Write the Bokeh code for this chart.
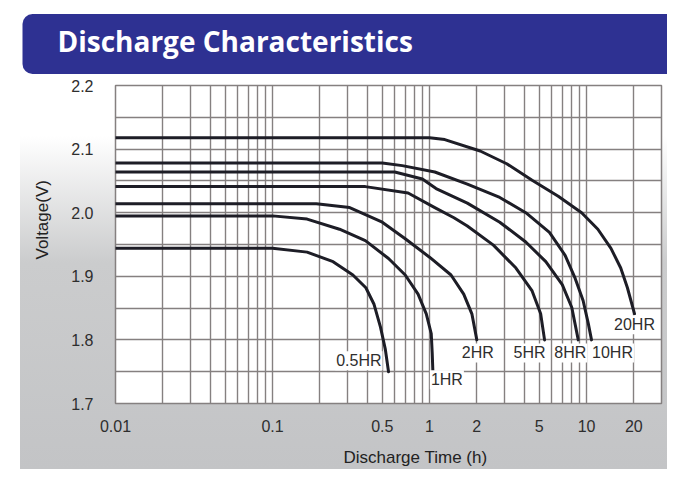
from bokeh.plotting import figure
from bokeh.models import Label, FixedTicker, Title
from bokeh.embed import file_html
from bokeh.resources import INLINE

# ---------------- data ----------------
title_text = "Discharge Characteristics"
x_title = "Discharge Time (h)"
y_title = "Voltage(V)"

x_ticks = [0.01, 0.1, 0.5, 1, 2, 5, 10, 20]
x_tick_labels = ["0.01", "0.1", "0.5", "1", "2", "5", "10", "20"]
y_ticks = [1.7, 1.8, 1.9, 2.0, 2.1, 2.2]
y_tick_labels = ["1.7", "1.8", "1.9", "2.0", "2.1", "2.2"]

x_grid = [0.01, 0.02, 0.03, 0.04, 0.05, 0.06, 0.07, 0.08, 0.09,
          0.1, 0.2, 0.3, 0.4, 0.5, 0.6, 0.7, 0.8, 0.9,
          1, 2, 3, 4, 5, 6, 7, 8, 9, 10, 20, 30]
y_grid = [1.7, 1.75, 1.8, 1.85, 1.9, 1.95, 2.0, 2.05, 2.1, 2.15, 2.2]

series_names = ["0.5HR", "1HR", "2HR", "5HR", "8HR", "10HR", "20HR"]

t_05 = [0.01, 0.1, 0.166, 0.243, 0.325, 0.393, 0.443, 0.487, 0.523, 0.548]
v_05 = [1.944, 1.944, 1.938, 1.923, 1.902, 1.882, 1.856, 1.820, 1.785, 1.750]

t_1 = [0.01, 0.1, 0.166, 0.267, 0.39, 0.548, 0.70, 0.845, 0.953, 1.025, 1.04, 1.05]
v_1 = [1.995, 1.995, 1.990, 1.974, 1.956, 1.928, 1.902, 1.872, 1.841, 1.810, 1.779, 1.750]

t_2 = [0.01, 0.19, 0.31, 0.5, 0.7, 1.0, 1.37, 1.65, 1.86, 2.0]
v_2 = [2.014, 2.014, 2.008, 1.985, 1.959, 1.930, 1.902, 1.872, 1.841, 1.800]

t_5 = [0.01, 0.39, 0.73, 1.08, 1.43, 1.74, 2.55, 3.55, 4.5, 5.1, 5.4]
v_5 = [2.041, 2.041, 2.031, 2.008, 1.992, 1.979, 1.949, 1.913, 1.877, 1.841, 1.800]

t_8 = [0.01, 0.6, 0.9, 1.1, 1.74, 2.8, 4.1, 5.5, 7.0, 8.05, 8.85]
v_8 = [2.064, 2.064, 2.053, 2.038, 2.015, 1.985, 1.954, 1.923, 1.887, 1.851, 1.800]

t_10 = [0.01, 0.5, 0.67, 1.08, 1.74, 2.8, 4.1, 5.8, 7.3, 8.45, 9.5, 10.25, 10.75]
v_10 = [2.078, 2.078, 2.074, 2.064, 2.045, 2.024, 2.000, 1.969, 1.933, 1.897, 1.862, 1.826, 1.800]

t_20 = [0.01, 1.0, 1.25, 2.1, 3.1, 4.5, 6.6, 9.3, 11.8, 14.3, 16.5, 18.2, 20.2]
v_20 = [2.118, 2.118, 2.115, 2.097, 2.077, 2.051, 2.026, 2.000, 1.974, 1.944, 1.913, 1.882, 1.841]

series_t = [t_05, t_1, t_2, t_5, t_8, t_10, t_20]
series_v = [v_05, v_1, v_2, v_5, v_8, v_10, v_20]

# label placement relative to curve end (screen px) - style only
label_dx = [-6, -3, 1, -15, -8, 21, 0]
label_dy = [11, -8, -13, -13, -13, -13, -11]
label_align = ["right", "left", "center", "center", "center", "center", "center"]

# ---------------- figure ----------------
W, H = 667, 469
ML, MR, MT, MB = 115, 6, 83, 64

p = figure(width=W, height=H, x_axis_type="log",
           x_range=(0.01, 30), y_range=(1.7, 2.2),
           output_backend="svg", toolbar_location=None, title=None,
           min_border_left=ML, min_border_right=MR,
           min_border_top=MT, min_border_bottom=MB)

p.border_fill_color = None
p.background_fill_color = "white"
p.outline_line_color = "#858080"
p.outline_line_width = 1.5
p.styles = {
    "background": "linear-gradient(to bottom, #ffffff 0%, #ffffff 29%, #cbcccd 56%, #c3c4c6 100%) 20px 0 / 647px 469px no-repeat"
}

# grid
p.xgrid.ticker = FixedTicker(ticks=x_grid)
p.ygrid.ticker = FixedTicker(ticks=y_grid)
for g in (p.xgrid, p.ygrid):
    g.grid_line_color = "#858080"
    g.grid_line_width = 1.4
    g.grid_line_alpha = 1.0

# axes
p.xaxis.ticker = FixedTicker(ticks=x_ticks)
p.xaxis.major_label_overrides = {float(t): s for t, s in zip(x_ticks, x_tick_labels)}
p.yaxis.ticker = FixedTicker(ticks=y_ticks)
p.yaxis.major_label_overrides = {float(t): s for t, s in zip(y_ticks, y_tick_labels)}
for ax in (p.xaxis, p.yaxis):
    ax.axis_line_color = None
    ax.major_tick_line_color = None
    ax.minor_tick_line_color = None
    ax.major_tick_out = 0
    ax.major_tick_in = 0
    ax.major_label_text_font = "Liberation Sans"
    ax.major_label_text_font_size = "16px"
    ax.major_label_text_color = "#2e2e2e"
p.xaxis.major_label_standoff = 16
p.yaxis.major_label_standoff = 22

# curves
for t, v in zip(series_t, series_v):
    p.line(t, v, line_color="#1d1d26", line_width=3, line_join="round", line_cap="round")

# curve labels
for name, t, v, dx, dy, al in zip(series_names, series_t, series_v, label_dx, label_dy, label_align):
    p.add_layout(Label(x=t[-1], y=v[-1], text=name, x_offset=dx, y_offset=dy,
                       text_align=al, text_baseline="middle",
                       text_font="Liberation Sans", text_font_size="16px",
                       text_color="#2e2e2e",
                       background_fill_color="white", background_fill_alpha=1.0,
                       padding=1))

# header band with title
header = Title(text=title_text, align="left", offset=-93, standoff=23,
               text_font="Open Sans", text_font_style="bold", text_font_size="28px",
               text_color="white",
               background_fill_color="#2e3192", background_fill_alpha=1.0,
               padding=dict(left=35, right=400, top=8, bottom=14),
               border_radius=10)
p.add_layout(header, "above")

# axis titles
ytitle = Title(text=y_title, align="left", offset=144, standoff=34,
               text_font="Liberation Sans", text_font_style="normal",
               text_font_size="17px", text_color="#222222")
p.add_layout(ytitle, "left")
xtitle = Title(text=x_title, align="left", offset=228, standoff=2,
               vertical_align="top",
               text_font="Liberation Sans", text_font_style="normal",
               text_font_size="17px", text_color="#222222",
               padding=dict(left=0, right=0, top=12, bottom=0))
p.add_layout(xtitle, "below")

open("out.html", "w").write(file_html(p, INLINE))
